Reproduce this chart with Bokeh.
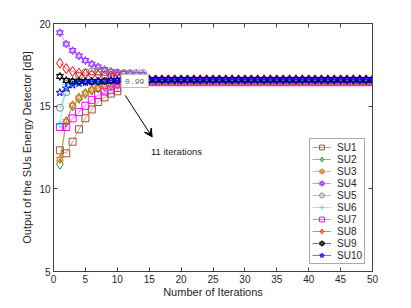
from bokeh.plotting import figure
from bokeh.models import (LinearAxis, Range1d, Legend, LegendItem, Label, Arrow,
                          VeeHead, FixedTicker)
from bokeh.embed import file_html
from bokeh.resources import INLINE

# ---------------- data ----------------
iterations = list(range(1, 51))
x_ticks = [0, 5, 10, 15, 20, 25, 30, 35, 40, 45, 50]
y_ticks = [5, 10, 15, 20]

names = ["SU1", "SU2", "SU3", "SU4", "SU5", "SU6", "SU7", "SU8", "SU9", "SU10"]

# first 14 iterations, then the steady value for 15..50
su1_first = [12.33, 12.15, 12.85, 13.60, 14.27, 14.80, 15.25, 15.53, 15.76, 15.90, 16.5, 16.5, 16.5, 16.5]
su2_first = [11.49, 14.06, 15.02, 15.48, 15.76, 15.97, 16.11, 16.20, 16.28, 16.35, 16.55, 16.55, 16.55, 16.55]
su3_first = [11.79, 14.08, 15.05, 15.50, 15.78, 15.98, 16.10, 16.20, 16.28, 16.35, 16.55, 16.55, 16.55, 16.55]
su4_first = [19.44, 18.76, 18.36, 18.04, 17.76, 17.55, 17.37, 17.21, 17.10, 17.02, 16.98, 16.95, 16.92, 16.90]
su5_first = [14.90, 15.85, 16.45, 16.85, 17.05, 17.10, 17.10, 17.08, 17.05, 17.03, 17.00, 17.00, 17.00, 17.00]
su6_first = [13.90, 16.30, 16.40, 16.45, 16.50, 16.50, 16.50, 16.50, 16.50, 16.50, 16.6, 16.6, 16.6, 16.6]
su7_first = [13.74, 13.74, 14.26, 14.64, 15.02, 15.38, 15.67, 15.88, 16.00, 16.10, 16.45, 16.45, 16.45, 16.45]
su8_first = [17.60, 17.27, 17.10, 17.00, 16.95, 16.90, 16.88, 16.85, 16.83, 16.80, 16.6, 16.6, 16.6, 16.6]
su9_first = [16.80, 16.55, 16.50, 16.50, 16.50, 16.50, 16.50, 16.52, 16.55, 16.55, 16.6, 16.6, 16.6, 16.6]
su10_first = [15.82, 16.08, 16.28, 16.38, 16.43, 16.47, 16.50, 16.52, 16.55, 16.57, 16.6, 16.6, 16.6, 16.6]

su1_steady = 16.50
su2_steady = 16.55
su3_steady = 16.55
su4_steady = 16.60
su5_steady = 16.60
su6_steady = 16.60
su7_steady = 16.45
su8_steady = 16.60
su9_steady = 16.60
su10_steady = 16.60

firsts = [su1_first, su2_first, su3_first, su4_first, su5_first,
          su6_first, su7_first, su8_first, su9_first, su10_first]
steadies = [su1_steady, su2_steady, su3_steady, su4_steady, su5_steady,
            su6_steady, su7_steady, su8_steady, su9_steady, su10_steady]
series = [f + [s] * (len(iterations) - len(f)) for f, s in zip(firsts, steadies)]

colors = ["#A0522D", "#1E8C1E", "#E07B1A", "#9933FF", "#808080",
          "#00FFFF", "#FF00FF", "#FF0000", "#000000", "#0000FF"]
markers = ["square", "diamond", "hexagram", "hexagram", "circle",
           "cross", "square", "diamond", "hexagram", "star"]

# annotation
tip_text = "0.99"
tip_x, tip_y = 12.73, 16.52
arrow_x0, arrow_y0, arrow_x1, arrow_y1 = 11.24, 15.65, 15.47, 13.14
note_text = "11 iterations"
note_x, note_y = 15.27, 12.25

# ---------------- figure ----------------
FONT = "Liberation Sans"
AX = "#404040"
p = figure(width=403, height=300, x_range=Range1d(0, 50), y_range=Range1d(5, 20),
           output_backend="svg", toolbar_location=None,
           min_border_left=53, min_border_right=31, min_border_top=23, min_border_bottom=26)
p.xgrid.visible = False
p.ygrid.visible = False
p.outline_line_color = AX
p.background_fill_color = "white"


def style_axis(ax, ticks, show_labels=True):
    ax.ticker = FixedTicker(ticks=ticks)
    ax.axis_line_color = AX
    ax.major_tick_line_color = AX
    ax.major_tick_in = 4
    ax.major_tick_out = 0
    ax.minor_tick_line_color = None
    ax.major_label_text_font = FONT
    ax.major_label_text_color = "#262626"
    ax.major_label_text_font_size = "10px"
    if not show_labels:
        ax.major_label_overrides = {t: "" for t in ticks}
        ax.major_label_standoff = 0
    ax.axis_label_text_font = FONT
    ax.axis_label_text_font_size = "11px"
    ax.axis_label_text_font_style = "normal"
    ax.axis_label_text_color = "#262626"


style_axis(p.xaxis[0], x_ticks)
style_axis(p.yaxis[0], y_ticks)
p.xaxis[0].axis_label = "Number of Iterations"
p.yaxis[0].axis_label = "Output of the SUs Energy Detector [dB]"
p.xaxis[0].major_label_standoff = 3
p.xaxis[0].axis_label_standoff = 0
p.yaxis[0].major_label_standoff = 3
p.yaxis[0].axis_label_standoff = 3

top_ax = LinearAxis()
style_axis(top_ax, x_ticks, show_labels=False)
p.add_layout(top_ax, "above")
right_ax = LinearAxis()
style_axis(right_ax, y_ticks, show_labels=False)
p.add_layout(right_ax, "right")

legend_items = []
for name, ys, c, m in zip(names, series, colors, markers):
    rs = []
    rs.append(p.line(iterations, ys, line_color=c, line_width=1, line_alpha=0.55))
    if m == "hexagram":
        for tm in ("triangle", "inverted_triangle"):
            rs.append(p.scatter(iterations, ys, marker=tm, size=7, fill_color=None,
                                line_color=c, line_width=1))
    elif m == "diamond":
        rs.append(p.scatter(iterations, ys, marker="diamond", size=10,
                            fill_color=None, line_color=c, line_width=1))
    elif m == "star":
        rs.append(p.scatter(iterations, ys, marker="star", size=8, fill_color=None,
                            line_color=c, line_width=1))
    else:
        rs.append(p.scatter(iterations, ys, marker=m, size=7, fill_color=None,
                            line_color=c, line_width=1))
    legend_items.append(LegendItem(label=name, renderers=rs))

legend = Legend(items=legend_items, location=(256, 7), padding=2, spacing=0,
                label_height=12, glyph_height=12, glyph_width=19, label_standoff=6,
                label_width=20, label_text_font=FONT, label_text_font_size="10px",
                label_text_color="#262626", border_line_color="#555555",
                border_line_width=1, background_fill_color="white",
                background_fill_alpha=1, margin=0)
p.add_layout(legend)

tip = Label(x=tip_x, y=tip_y, text=tip_text, text_align="center", text_baseline="middle",
            text_font="Liberation Mono", text_font_size="8px", text_color="#666666",
            background_fill_color="white", background_fill_alpha=1,
            border_line_color="#BBBBBB", border_line_width=1, padding=4)
p.add_layout(tip)

p.add_layout(Arrow(end=VeeHead(size=8, fill_color="black", line_color="black"),
                   x_start=arrow_x0, y_start=arrow_y0, x_end=arrow_x1, y_end=arrow_y1,
                   line_color="black", line_width=1))

p.add_layout(Label(x=note_x, y=note_y, text=note_text, text_align="left",
                   text_baseline="middle", text_font=FONT, text_font_size="9.5px",
                   text_color="#1a1a1a"))

open("out.html", "w").write(file_html(p, INLINE))
